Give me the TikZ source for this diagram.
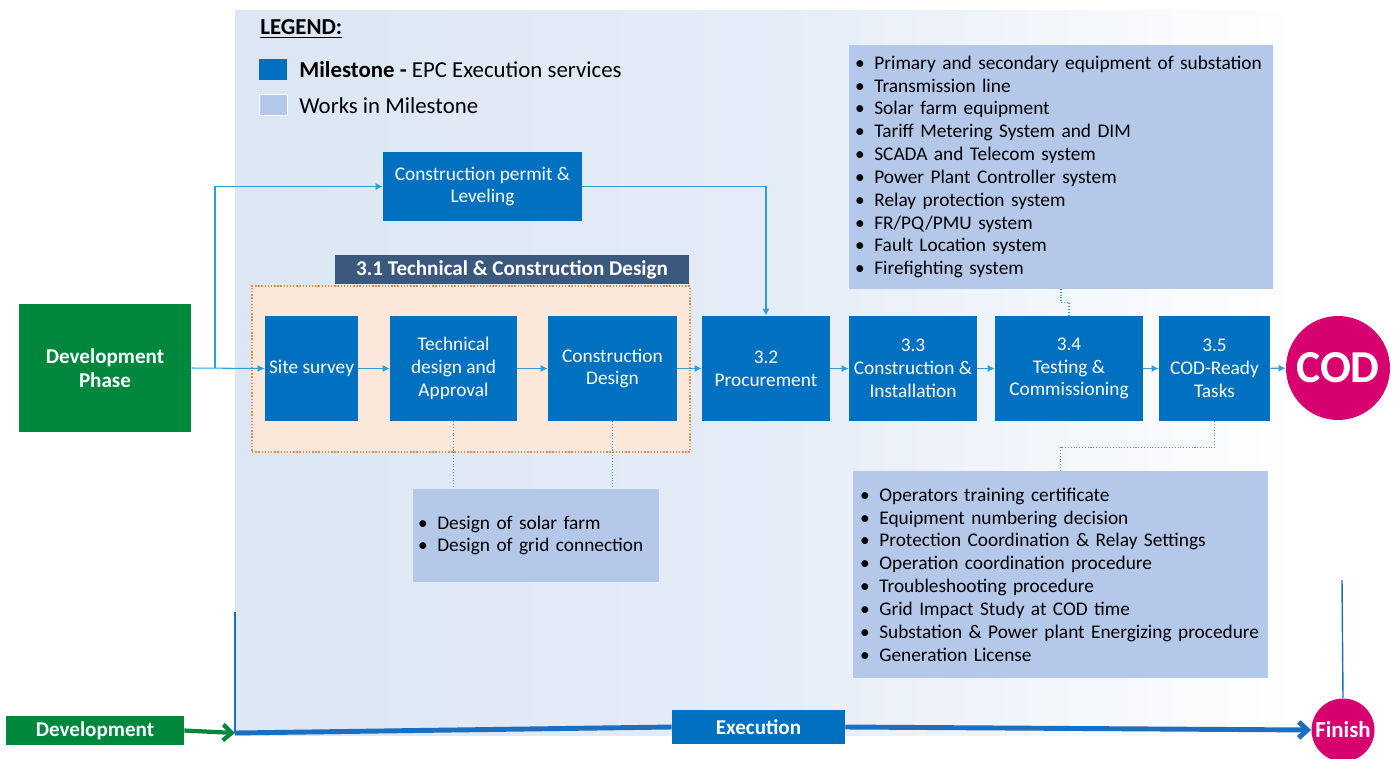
\documentclass[tikz,border=0pt]{standalone}
\usepackage{fontspec}
\setmainfont{Carlito}
\usetikzlibrary{arrows.meta}
\definecolor{msblue}{HTML}{0070C0}
\definecolor{wkblue}{HTML}{B4C8EA}
\definecolor{devgreen}{HTML}{00873E}
\definecolor{slate}{HTML}{3B597D}
\definecolor{peach}{HTML}{FBE8DA}
\definecolor{frameorange}{HTML}{F0893C}
\definecolor{codpink}{HTML}{D6006E}
\definecolor{linkblue}{HTML}{2E9ED8}
\definecolor{bgblue}{HTML}{DCE6F4}
\definecolor{lineblue}{HTML}{1C6EC0}
\newcommand{\bitem}[1]{\makebox[11pt][l]{\textbullet}#1}
\tikzset{
  milestone/.style={fill=msblue, text=white, align=center, inner sep=0pt, minimum height=2.1cm},
  works/.style={fill=wkblue, text=black, align=left, inner ysep=0pt},
  conn/.style={draw=linkblue, line width=0.6pt, -{Latex[length=4pt,width=4pt]}},
  dotlink/.style={draw=linkblue, densely dotted, line width=0.6pt},
  phase/.style={fill=devgreen, text=white, font=\fontsize{12}{14}\bfseries, align=center, inner sep=0pt},
  legendtxt/.style={anchor=west, inner sep=0pt, font=\fontsize{13}{15}\selectfont}
}
\begin{document}
\begin{tikzpicture}[x=0.02cm,y=-0.02cm,font=\fontsize{11}{13}\selectfont]
\useasboundingbox (0,0) rectangle (1400,758);
% execution area
\shade[left color=bgblue, right color=white, middle color=bgblue!75] (235,10) rectangle (1300,735);

% legend
\node[legendtxt] (legend) at (260,29) {\underline{\textbf{LEGEND:}}};
\node[fill=msblue, minimum width=0.56cm, minimum height=0.42cm, inner sep=0pt] (keyms) at (273,69.5) {};
\node[legendtxt] (keymstxt) at (299,70) {\textbf{Milestone -} EPC Execution services};
\node[fill=wkblue, draw=white, minimum width=0.56cm, minimum height=0.42cm, inner sep=0pt] (keywk) at (273,104.5) {};
\node[legendtxt] (keywktxt) at (299,106) {Works in Milestone};

% 3.1 frame
\node[draw=frameorange, densely dotted, line width=0.8pt, fill=peach, minimum width=8.76cm, minimum height=3.32cm] (frame31) at (471,369) {};
\node[fill=slate, text=white, font=\fontsize{12}{14}\bfseries, minimum width=7.08cm, minimum height=0.58cm, inner sep=0pt] (title31) at (512,269.5) {3.1 Technical \& Construction Design};

% milestones
\node[phase, minimum width=3.44cm, minimum height=2.56cm] (devphase) at (105,368) {Development\\Phase};
\node[milestone, minimum width=3.98cm, minimum height=1.38cm] (permit) at (482.5,186.5) {Construction permit \&\\Leveling};
\node[milestone, minimum width=1.86cm] (site) at (311.5,368.5) {Site survey};
\node[milestone, minimum width=2.54cm] (tech) at (453.5,368.5) {Technical\\design and\\Approval};
\node[milestone, minimum width=2.58cm] (cdesign) at (612.5,368.5) {Construction\\Design};
\node[milestone, minimum width=2.56cm] (proc) at (766,368.5) {3.2\\Procurement};
\node[milestone, minimum width=2.56cm] (inst) at (913,368.5) {3.3\\Construction \&\\Installation};
\node[milestone, minimum width=2.96cm] (test) at (1069,368.5) {3.4\\Testing \&\\Commissioning};
\node[milestone, minimum width=2.22cm] (ready) at (1214.5,368.5) {3.5\\COD-Ready\\Tasks};
\node[circle, fill=codpink, text=white, font=\fontsize{26}{30}\bfseries, minimum size=2.08cm, inner sep=0pt] (cod) at (1338,368) {COD};

% works
\node[works, inner xsep=0.1cm, text width=4.72cm, minimum height=1.86cm] (works1) at (536,535.5)
  {\bitem{Design of solar farm}\\\bitem{Design of grid connection}};
\node[works, inner xsep=0.12cm, text width=8.24cm, minimum height=4.88cm] (works2) at (1061,167)
  {\bitem{Primary and secondary equipment of substation}\\
   \bitem{Transmission line}\\
   \bitem{Solar farm equipment}\\
   \bitem{Tariff Metering System and DIM}\\
   \bitem{SCADA and Telecom system}\\
   \bitem{Power Plant Controller system}\\
   \bitem{Relay protection system}\\
   \bitem{FR/PQ/PMU system}\\
   \bitem{Fault Location system}\\
   \bitem{Firefighting system}};
\node[works, inner xsep=0.14cm, text width=8.02cm, minimum height=4.14cm] (works3) at (1060.5,574.5)
  {\bitem{Operators training certificate}\\
   \bitem{Equipment numbering decision}\\
   \bitem{Protection Coordination \& Relay Settings}\\
   \bitem{Operation coordination procedure}\\
   \bitem{Troubleshooting procedure}\\
   \bitem{Grid Impact Study at COD time}\\
   \bitem{Substation \& Power plant Energizing procedure}\\
   \bitem{Generation License}};

% flow
\coordinate (split) at (215,368);
\draw[conn] (devphase.east) -- (site.west);
\draw[conn] (split) |- (permit.west);
\draw[conn] (permit.east) -| (proc.north);
\draw[conn] (site) -- (tech);
\draw[conn] (tech) -- (cdesign);
\draw[conn] (cdesign) -- (proc);
\draw[conn] (proc) -- (inst);
\draw[conn] (inst) -- (test);
\draw[conn] (test) -- (ready);
\draw[conn] (ready) -- (cod);
\draw[dotlink] (tech.south) -- (tech.south |- works1.north);
\draw[dotlink] (cdesign.south) -- (cdesign.south |- works1.north);
\draw[dotlink] (test.north) -- ++(0,-13) -| (works2.south);
\draw[dotlink] (ready.south) -- ++(0,26) -| (works3.north);

% timeline
\node[phase, minimum width=3.56cm, minimum height=0.58cm] (devbar) at (95,730.5) {Development};
\node[fill=msblue, text=white, font=\fontsize{12}{14}\bfseries, minimum width=3.46cm, minimum height=0.68cm, inner sep=0pt] (exec) at (758.5,727) {Execution};
\node[circle, fill=codpink, text=white, font=\fontsize{13}{15}\bfseries, minimum size=1.26cm, inner sep=0pt] (finish) at (1343,730) {Finish};
\coordinate (execstart) at (235,733);
\draw[devgreen, line width=2.4pt, -{Straight Barb[length=5pt,width=9pt]}] (devbar.east) -- (execstart);
\draw[lineblue, line width=0.8pt] (235,612) -- (execstart);
\draw[lineblue, line width=2.8pt] (execstart) -- (exec.west);
\draw[lineblue, line width=2.8pt, -{Straight Barb[length=5pt,width=9pt]}] (exec.east) -- (finish.west);
\draw[lineblue, line width=0.8pt] (1342,580) -- (finish.north);
%\draw[lineblue] (1300,10) -- (1300,735);
\end{tikzpicture}
\end{document}
